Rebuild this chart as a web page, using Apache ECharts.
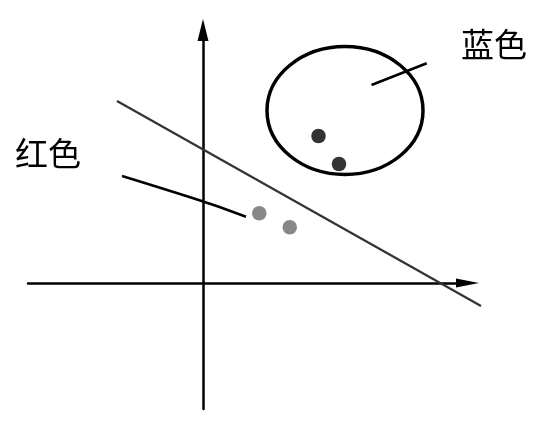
<!DOCTYPE html>
<html>
<head>
<meta charset="utf-8">
<script src="https://cdn.jsdelivr.net/npm/echarts@6/dist/echarts.min.js"></script>
<style>html,body{margin:0;padding:0;background:#fff}#c{width:549px;height:430px}</style>
</head>
<body>
<div id="c"></div>
<script>
// Data (abstract units, origin at axes crossing)
var blueDots = [[4.62, 5.88], [5.44, 4.76]];
var redDots = [[2.25, 2.79], [3.47, 2.23]];
var separator = [[-3.44, 7.28], [11.12, -0.92]];
var ellipse = [[5.68, 6.9, 3.12, 2.56]]; // cx, cy, rx, ry
var blueLeader = [[6.74, 7.92], [8.95, 8.79]];
var redLeader = [[-3.24, 4.28], [0.04, 3.25], [1.72, 2.65]];
var labelNames = ['蓝色', '红色'];
var labelPos = [[11.64, 9.56], [-6.2, 5.2]];

var chart = echarts.init(document.getElementById('c'), null, {renderer: 'canvas'});
var axisCommon = {
  type: 'value',
  axisTick: {show: false},
  axisLabel: {show: false},
  splitLine: {show: false}
};
chart.setOption({
  animation: false,
  backgroundColor: '#fff',
  grid: {left: 28, right: 81.5, top: 30, bottom: 21, containLabel: false},
  xAxis: Object.assign({}, axisCommon, {
    min: -7, max: 10.58,
    axisLine: {show: true, onZero: true, symbol: ['none', 'triangle'], symbolSize: [9, 23],
      lineStyle: {color: '#000', width: 2.5}}
  }),
  yAxis: Object.assign({}, axisCommon, {
    min: -5.04, max: 10.12,
    axisLine: {show: true, onZero: true, symbol: ['none', 'triangle'], symbolSize: [11, 22],
      lineStyle: {color: '#000', width: 2.5}}
  }),
  series: [
    {type: 'custom', data: [0], clip: false, z: 3,
      renderItem: function (params, api) {
        var p1 = api.coord(separator[0]);
        var p2 = api.coord(separator[1]);
        return {type: 'line', shape: {x1: p1[0], y1: p1[1], x2: p2[0], y2: p2[1]},
          style: {stroke: '#333', lineWidth: 2.2}};
      }
    },
    {type: 'line', data: blueLeader, symbol: 'none', clip: false,
      lineStyle: {color: '#000', width: 2.5}, z: 3},
    {type: 'line', data: redLeader, symbol: 'none', clip: false, smooth: 0.3,
      lineStyle: {color: '#000', width: 2.5}, z: 3},
    {type: 'custom', data: ellipse, clip: false, z: 3,
      renderItem: function (params, api) {
        var c = api.coord([api.value(0), api.value(1)]);
        var s = api.size([api.value(2), api.value(3)]);
        return {type: 'ellipse', shape: {cx: c[0], cy: c[1], rx: s[0], ry: s[1]},
          style: {fill: 'none', stroke: '#000', lineWidth: 3.5}};
      }
    },
    {type: 'scatter', data: blueDots, symbolSize: 14.5, itemStyle: {color: '#333', opacity: 1}, z: 4},
    {type: 'scatter', data: redDots, symbolSize: 14.5, itemStyle: {color: '#888', opacity: 1}, z: 4},
    {type: 'custom', clip: false, z: 5,
      data: labelPos.map(function (p, i) { return [p[0], p[1], i]; }),
      renderItem: function (params, api) {
        var c = api.coord([api.value(0), api.value(1)]);
        return {type: 'text', x: c[0], y: c[1],
          style: {text: labelNames[api.value(2)], fill: '#000',
            font: '33px "Noto Sans CJK SC"', align: 'center', verticalAlign: 'middle'}};
      }
    }
  ]
});
</script>
</body>
</html>
